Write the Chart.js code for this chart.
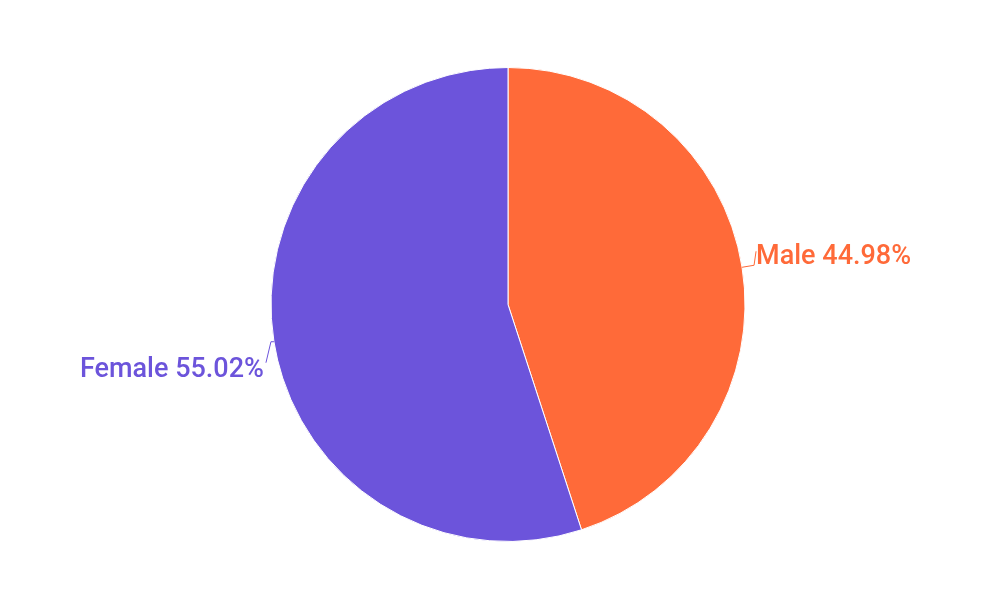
<!DOCTYPE html>
<html><head><meta charset="utf-8">
<script src="https://cdn.jsdelivr.net/npm/chart.js@4"></script>
<style>html,body{margin:0;padding:0;background:#fff;}#wrap{width:1000px;height:604px;}</style>
</head><body><div id="wrap"><canvas id="c"></canvas></div>
<script>
const categories = ["Male", "Female"];
const values = [44.98, 55.02];
const colors = ["#FF6A39", "#6C54DB"];

const labelPlugin = {
  id: 'outLabels',
  afterDraw(chart) {
    const ctx = chart.ctx;
    const meta = chart.getDatasetMeta(0);
    ctx.save();
    ctx.font = '500 27px Roboto';
    ctx.textBaseline = 'middle';
    meta.data.forEach((arc, i) => {
      const mid = (arc.startAngle + arc.endAngle) / 2;
      const r = arc.outerRadius;
      const cx = arc.x, cy = arc.y;
      const ex = cx + Math.cos(mid) * r, ey = cy + Math.sin(mid) * r;
      const right = Math.cos(mid) >= 0;
      const text = categories[i] + ' ' + values[i].toFixed(2) + '%';
      ctx.strokeStyle = colors[i];
      ctx.fillStyle = colors[i];
      ctx.lineWidth = 1;
      ctx.beginPath();
      let tx, ty;
      if (right) {
        ctx.moveTo(ex, ey);
        ctx.lineTo(ex + 12, ey - 2);
        ctx.lineTo(ex + 14, ey - 16);
        tx = ex + 14; ty = ey - 10;
        ctx.stroke();
        ctx.textAlign = 'left';
        ctx.fillText(text, tx, ty);
      } else {
        ctx.moveTo(ex, ey);
        ctx.lineTo(ex - 3, ey);
        ctx.lineTo(ex - 8, ey + 21);
        tx = ex - 10; ty = ey + 29;
        ctx.stroke();
        ctx.textAlign = 'right';
        ctx.fillText(text, tx, ty);
      }
    });
    ctx.restore();
  }
};

new Chart(document.getElementById('c'), {
  type: 'pie',
  data: {
    labels: categories,
    datasets: [{ data: values, backgroundColor: colors, borderColor: '#ffffff', borderWidth: 1 }]
  },
  options: {
    responsive: true,
    maintainAspectRatio: false,
    animation: false,
    layout: { padding: { top: 67, bottom: 62, left: 16, right: 0 } },
    plugins: { legend: { display: false }, tooltip: { enabled: false } }
  },
  plugins: [labelPlugin]
});
</script></body></html>
